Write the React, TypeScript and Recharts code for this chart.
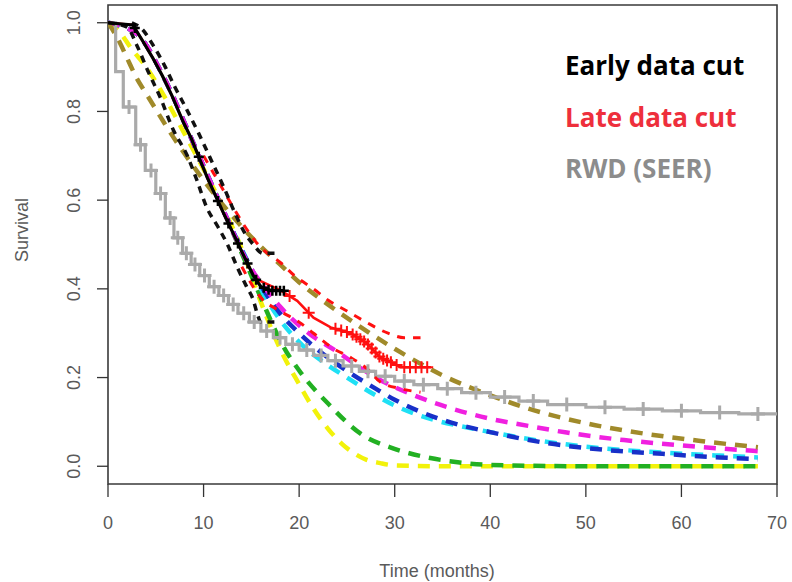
import React from 'react';
import { ComposedChart, Line, XAxis, YAxis, ReferenceArea } from 'recharts';

// RWD (SEER) Kaplan-Meier, step function
const rwdTime = [0, 0.8, 1.6, 2.9, 3.9, 5.0, 6.0, 6.9, 7.8, 8.7, 9.6, 10.6, 11.6, 12.6, 13.6, 14.8, 16.0, 17.3, 18.6, 20.0, 21.5, 23.0, 24.6, 26.3, 28.0, 30.0, 32.0, 34.5, 37.0, 40.0, 43.0, 46.0, 50.0, 54.0, 58.0, 62.0, 66.0, 70];
const rwdSurv = [1.0, 0.89, 0.81, 0.725, 0.667, 0.615, 0.56, 0.515, 0.48, 0.455, 0.43, 0.405, 0.385, 0.365, 0.345, 0.325, 0.305, 0.29, 0.275, 0.262, 0.25, 0.238, 0.226, 0.214, 0.203, 0.192, 0.184, 0.175, 0.166, 0.156, 0.147, 0.139, 0.133, 0.129, 0.125, 0.121, 0.118, 0.115];
const rwdCensorTime = [2.2, 3.4, 4.5, 5.5, 6.5, 7.3, 8.2, 9.1, 10.1, 11.1, 12.1, 13.1, 14.2, 15.3, 16.6, 18.0, 19.3, 20.8, 22.3, 23.8, 25.5, 27.2, 29.0, 31.0, 33.0, 35.5, 38.5, 41.5, 44.5, 48.0, 52.0, 56.0, 60.0, 64.0, 68.0];

// early data cut KM + CI
const earlyTime = [0, 2.6, 3.6, 4.7, 5.7, 6.7, 7.9, 8.7, 10.4, 12.1, 13.1, 14.2, 15.2, 16.0, 17.0, 18.4];
const earlySurv = [1.0, 0.995, 0.96, 0.92, 0.88, 0.835, 0.775, 0.74, 0.65, 0.57, 0.525, 0.475, 0.43, 0.405, 0.396, 0.396];
const earlyCensorTime = [2.8, 9.5, 11.5, 12.6, 13.6, 14.6, 15.5, 16.3, 16.8, 17.2, 17.6, 18.0, 18.4];
const earlyUpperTime = [2.5, 3.6, 4.7, 6.0, 7.0, 8.1, 9.5, 10.8, 12.1, 13.2, 14.2, 15.2, 16.2, 17.8];
const earlyUpperSurv = [1.0, 0.985, 0.95, 0.9, 0.855, 0.81, 0.75, 0.69, 0.63, 0.575, 0.53, 0.5, 0.48, 0.48];
const earlyLowerTime = [0, 2.0, 3.0, 4.2, 5.5, 6.8, 8.3, 9.3, 10.3, 11.5, 12.5, 13.5, 14.5, 15.2, 15.6, 16.0, 17.5];
const earlyLowerSurv = [1.0, 0.99, 0.95, 0.89, 0.83, 0.76, 0.7, 0.645, 0.585, 0.54, 0.5, 0.45, 0.405, 0.375, 0.345, 0.325, 0.325];

// late data cut KM + CI
const lateTime = [0, 2.6, 3.6, 4.7, 5.7, 6.7, 7.9, 8.7, 10.4, 12.1, 13.1, 14.2, 15.2, 15.7, 18.1, 19.8, 21.5, 23.3, 25.4, 27.1, 28.5, 29.9, 30.6, 33.8];
const lateSurv = [1.0, 0.995, 0.96, 0.92, 0.88, 0.835, 0.775, 0.74, 0.65, 0.57, 0.525, 0.475, 0.43, 0.42, 0.396, 0.373, 0.335, 0.313, 0.3, 0.277, 0.245, 0.232, 0.223, 0.223];
const lateCensorTime = [19.0, 21.0, 23.8, 24.4, 25.0, 25.6, 26.0, 26.4, 26.8, 27.2, 27.6, 28.0, 28.4, 28.8, 29.2, 29.6, 30.2, 31.0, 31.6, 32.2, 32.8, 33.4];
const lateUpperTime = [10, 12, 13.2, 14.5, 15.7, 17, 18, 19.5, 21.5, 23, 25, 27, 29.3, 31, 32.7];
const lateUpperSurv = [0.7, 0.625, 0.58, 0.535, 0.5, 0.475, 0.46, 0.43, 0.4, 0.375, 0.35, 0.325, 0.3, 0.29, 0.29];
const lateLowerTime = [14, 16, 18, 20, 21.5, 23.6, 25.4, 27.1, 28.5, 30.6, 32.7];
const lateLowerSurv = [0.45, 0.38, 0.35, 0.325, 0.3, 0.265, 0.245, 0.22, 0.19, 0.175, 0.167];

// parametric extrapolations
const oliveTime = [0, 1, 2, 3, 4, 5, 6, 8, 10, 12, 14, 16, 18, 20, 23, 26, 30, 35, 40, 44, 50, 56, 62, 68];
const oliveSurv = [1, 0.965, 0.92, 0.875, 0.84, 0.805, 0.77, 0.705, 0.645, 0.59, 0.54, 0.495, 0.455, 0.415, 0.365, 0.32, 0.265, 0.205, 0.16, 0.13, 0.097, 0.074, 0.057, 0.043];
const magentaTime = [0, 3, 6, 9, 12, 15, 16.5, 18, 21, 24, 28, 32, 36, 40, 44, 48, 54, 60, 66, 68];
const magentaSurv = [1, 0.975, 0.87, 0.725, 0.58, 0.445, 0.4, 0.36, 0.3, 0.258, 0.2, 0.16, 0.13, 0.107, 0.091, 0.076, 0.059, 0.047, 0.037, 0.034];
const blueTime = [0, 3, 6, 9, 12, 15, 16.5, 18, 20, 23, 25, 28, 30, 34, 37, 40, 46, 52, 58, 64, 68];
const blueSurv = [1, 0.975, 0.87, 0.725, 0.58, 0.445, 0.39, 0.345, 0.3, 0.245, 0.215, 0.175, 0.15, 0.112, 0.092, 0.077, 0.052, 0.037, 0.028, 0.02, 0.016];
const cyanTime = [0, 3, 6, 9, 12, 15, 16.5, 18, 20, 23, 25, 28, 30, 34, 37, 40, 46, 52, 58, 64, 68];
const cyanSurv = [1, 0.975, 0.87, 0.725, 0.58, 0.445, 0.38, 0.33, 0.28, 0.228, 0.2, 0.16, 0.137, 0.105, 0.09, 0.077, 0.055, 0.04, 0.031, 0.024, 0.02];
const greenTime = [0, 3, 6, 9, 12, 15, 16.7, 18, 20.2, 23, 26.4, 29.9, 33.4, 36.6, 40, 50, 60, 68];
const greenSurv = [1, 0.975, 0.87, 0.725, 0.58, 0.43, 0.345, 0.284, 0.21, 0.142, 0.074, 0.04, 0.02, 0.009, 0.003, 0, 0, 0];
const yellowTime = [0, 1, 2.5, 4, 6, 8, 10, 12, 14, 16, 18, 20, 21.5, 23, 24.5, 25.7, 27, 28.5, 30, 35, 40, 50, 60, 68];
const yellowSurv = [1, 0.985, 0.94, 0.9, 0.83, 0.75, 0.67, 0.585, 0.49, 0.37, 0.265, 0.185, 0.13, 0.085, 0.05, 0.03, 0.015, 0.007, 0.002, 0, 0, 0, 0, 0];

const xTicks = [0, 10, 20, 30, 40, 50, 60, 70];
const yTicks = [0, 0.2, 0.4, 0.6, 0.8, 1.0];

const zip = (t: number[], s: number[]) => t.map((x, i) => ({ t: x, s: s[i] }));

const stepAt = (t: number[], s: number[], x: number) => {
    let v = s[0];
    for (let i = 0; i < t.length; i++) if (t[i] <= x) v = s[i];
    return v;
};

const interpAt = (t: number[], s: number[], x: number) => {
    for (let i = 1; i < t.length; i++) {
        if (x <= t[i]) {
            const f = (x - t[i - 1]) / (t[i] - t[i - 1]);
            return s[i - 1] + f * (s[i] - s[i - 1]);
        }
    }
    return s[s.length - 1];
};

const rwdCensor = rwdCensorTime.map(x => ({ t: x, s: stepAt(rwdTime, rwdSurv, x) }));
const lateCensor = lateCensorTime.map(x => ({ t: x, s: interpAt(lateTime, lateSurv, x) }));
const earlyCensor = earlyCensorTime.map(x => ({ t: x, s: interpAt(earlyTime, earlySurv, x) }));

// "+" censoring mark
const plus = (color: string, size: number, width: number) => (props: any) => {
    const { cx, cy, index } = props;
    if (cx == null || cy == null) return <g key={index} />;
    return (
        <path
            key={index}
            d={`M${cx - size} ${cy}H${cx + size}M${cx} ${cy - size}V${cy + size}`}
            stroke={color}
            strokeWidth={width}
            fill="none"
        />
    );
};

const axisFont = '"Liberation Sans", Arial, sans-serif';

const YTick = (props: any) => {
    const { x, y, payload } = props;
    return (
        <text x={x} y={y} transform={`rotate(-90 ${x} ${y})`} textAnchor="middle" fontSize={18} fill="#5a5a5a" fontFamily={axisFont}>
            {Number(payload.value).toFixed(1)}
        </text>
    );
};

const param = [
    { name: 'yellow', data: zip(yellowTime, yellowSurv), color: '#f2f20a' },
    { name: 'green', data: zip(greenTime, greenSurv), color: '#22b022' },
    { name: 'cyan', data: zip(cyanTime, cyanSurv), color: '#1fe0f5' },
    { name: 'blue', data: zip(blueTime, blueSurv), color: '#1830c8' },
    { name: 'magenta', data: zip(magentaTime, magentaSurv), color: '#f020e0' },
    { name: 'olive', data: zip(oliveTime, oliveSurv), color: '#a08a2a' },
];

export default function App() {
    return (
        <div style={{ position: 'absolute', left: 0, top: 0, width: 792, height: 582, background: '#fff' }}>
            <ComposedChart width={792} height={582} margin={{ top: 5, right: 15, bottom: 38, left: 48 }}>
                <XAxis
                    dataKey="t"
                    type="number"
                    domain={[0, 70]}
                    ticks={xTicks}
                    allowDataOverflow
                    height={60}
                    axisLine={false}
                    tickSize={13}
                    tickMargin={19}
                    tickLine={{ stroke: '#333', strokeWidth: 1.3 }}
                    tick={{ fontSize: 18, fill: '#5a5a5a', fontFamily: axisFont }}
                />
                <YAxis
                    dataKey="s"
                    type="number"
                    domain={[-0.04, 1.04]}
                    ticks={yTicks}
                    allowDataOverflow
                    width={60}
                    axisLine={false}
                    tickSize={11}
                    tickMargin={17}
                    tickLine={{ stroke: '#333', strokeWidth: 1.3 }}
                    tick={<YTick />}
                />
                <ReferenceArea x1={0} x2={70} y1={-0.04} y2={1.04} fill="none" stroke="#3a3a3a" strokeWidth={1.6} ifOverflow="visible" />

                {param.map(p => (
                    <Line key={p.name} data={p.data} dataKey="s" type="monotone" stroke={p.color} strokeWidth={4.5} strokeDasharray="12 9" dot={false} isAnimationActive={false} />
                ))}

                <Line data={zip(rwdTime, rwdSurv)} dataKey="s" type="stepAfter" stroke="#aaaaaa" strokeWidth={3.2} dot={false} isAnimationActive={false} />
                <Line data={rwdCensor} dataKey="s" stroke="none" dot={plus('#aaaaaa', 7, 3)} isAnimationActive={false} />

                <Line data={zip(lateUpperTime, lateUpperSurv)} dataKey="s" type="monotone" stroke="#ff1010" strokeWidth={3} strokeDasharray="8 8" dot={false} isAnimationActive={false} />
                <Line data={zip(lateLowerTime, lateLowerSurv)} dataKey="s" type="monotone" stroke="#ff1010" strokeWidth={3} strokeDasharray="8 8" dot={false} isAnimationActive={false} />
                <Line data={zip(lateTime, lateSurv)} dataKey="s" type="linear" stroke="#ff1010" strokeWidth={2.5} dot={false} isAnimationActive={false} />
                <Line data={lateCensor} dataKey="s" stroke="none" dot={plus('#ff1010', 6, 2)} isAnimationActive={false} />

                <Line data={zip(earlyUpperTime, earlyUpperSurv)} dataKey="s" type="monotone" stroke="#111" strokeWidth={3.5} strokeDasharray="7 6" dot={false} isAnimationActive={false} />
                <Line data={zip(earlyLowerTime, earlyLowerSurv)} dataKey="s" type="monotone" stroke="#111" strokeWidth={3.5} strokeDasharray="7 6" dot={false} isAnimationActive={false} />
                <Line data={zip(earlyTime, earlySurv)} dataKey="s" type="linear" stroke="#000" strokeWidth={3.2} dot={false} isAnimationActive={false} />
                <Line data={earlyCensor} dataKey="s" stroke="none" dot={plus('#000', 5, 2.5)} isAnimationActive={false} />
            </ComposedChart>

            <svg width={792} height={582} style={{ position: 'absolute', left: 0, top: 0, pointerEvents: 'none' }}>
                <text x={28} y={230} transform="rotate(-90 28 230)" textAnchor="middle" fontSize={18} fill="#5a5a5a" fontFamily={axisFont}>Survival</text>
                <text x={437} y={577} textAnchor="middle" fontSize={18} fill="#5a5a5a" fontFamily={axisFont}>Time (months)</text>
                <g fontFamily='"Open Sans", Lato, sans-serif' fontWeight="bold" fontSize={26}>
                    <text x={565} y={75} fill="#000">Early data cut</text>
                    <text x={565} y={127} fill="#ee2f3c">Late data cut</text>
                    <text x={565} y={178} fill="#8c8c8c">RWD (SEER)</text>
                </g>
            </svg>
        </div>
    );
}
